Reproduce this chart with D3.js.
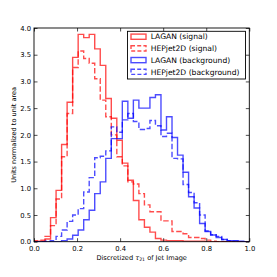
<!DOCTYPE html>
<html><head><meta charset="utf-8">
<script src="https://cdn.jsdelivr.net/npm/d3@7"></script>
<style>body{margin:0;background:#fff}svg{display:block}text{font-family:"DejaVu Sans",sans-serif}</style>
</head><body>
<svg id="c" width="277" height="277"></svg>
<script>
// ---- data ----
const binStart = 0, binEnd = 1, binCount = 39;
const laganSignal = [0, 0.01, 0.05, 0.45, 0.96, 1.82, 2.61, 3.45, 3.88, 3.82, 3.88, 3.61, 3.30, 2.68, 2.31, 1.90, 1.47, 1.15, 0.77, 0.41, 0.27, 0.18, 0.06, 0.03, 0.02, 0.02, 0.02, 0.01, 0.01, 0.01, 0.01, 0, 0, 0, 0, 0, 0, 0, 0];
const hepSignal = [0.02, 0.03, 0.1, 0.3, 0.8, 1.59, 2.40, 3.26, 3.57, 3.43, 3.34, 3.05, 2.65, 2.34, 2.0, 1.59, 1.42, 1.12, 1.08, 0.9, 0.69, 0.56, 0.56, 0.39, 0.39, 0.19, 0.19, 0.15, 0.08, 0.08, 0.06, 0.03, 0.01, 0, 0, 0, 0, 0, 0];
const laganBkg = [0, 0, 0, 0, 0, 0.02, 0.05, 0.12, 0.22, 0.41, 0.59, 0.9, 1.12, 1.56, 1.93, 1.93, 2.63, 2.31, 2.65, 2.5, 2.5, 2.7, 2.75, 2.09, 2.34, 1.95, 1.62, 1.3, 0.84, 0.63, 0.34, 0.19, 0.125, 0.08, 0.04, 0.02, 0.02, 0.01, 0];
const hepBkg = [0, 0, 0.01, 0.02, 0.1, 0.22, 0.38, 0.5, 0.62, 0.93, 1.2, 1.57, 1.6, 1.7, 2.15, 2.05, 2.28, 2.4, 2.25, 2.1, 2.12, 2.27, 2.17, 1.97, 2.03, 1.56, 1.55, 1.07, 0.92, 0.73, 0.5, 0.2, 0.13, 0.1, 0.04, 0.02, 0.01, 0, 0];
const seriesNames = ["LAGAN (signal)", "HEPjet2D (signal)", "LAGAN (background)", "HEPjet2D (background)"];
const xTicks = [0, 0.2, 0.4, 0.6, 0.8, 1.0];
const yTicks = [0, 0.5, 1.0, 1.5, 2.0, 2.5, 3.0, 3.5, 4.0];

// ---- layout ----
const m = {l: 34, r: 249.3, t: 28, b: 241.7};
const svg = d3.select("#c");
const x = d3.scaleLinear().domain([0, 1]).range([m.l, m.r]);
const y = d3.scaleLinear().domain([0, 4]).range([m.b, m.t]);

const edges = d3.range(binCount + 1).map(i => binStart + (binEnd - binStart) * i / binCount);

const series = [
  {name: seriesNames[0], vals: laganSignal, color: "#ff0000", dash: null},
  {name: seriesNames[1], vals: hepSignal, color: "#ff0000", dash: "5.5,2.4"},
  {name: seriesNames[2], vals: laganBkg, color: "#0000ff", dash: null},
  {name: seriesNames[3], vals: hepBkg, color: "#0000ff", dash: "5.5,2.4"}
];

svg.append("clipPath").attr("id", "clip").append("rect")
  .attr("x", m.l).attr("y", m.t - 2).attr("width", m.r - m.l).attr("height", m.b - m.t + 2);

const line = d3.line().x(d => x(d[0])).y(d => y(d[1]));
const g = svg.append("g").attr("clip-path", "url(#clip)");
series.forEach(s => {
  const pts = [[edges[0], 0]];
  s.vals.forEach((v, i) => { pts.push([edges[i], v]); pts.push([edges[i + 1], v]); });
  pts.push([edges[binCount], 0]);
  g.append("path").attr("d", line(pts)).attr("fill", "none")
    .attr("stroke", s.color).attr("stroke-opacity", 0.7).attr("stroke-width", 1.4)
    .attr("stroke-dasharray", s.dash);
});

// frame
svg.append("rect").attr("x", m.l).attr("y", m.t).attr("width", m.r - m.l).attr("height", m.b - m.t)
  .attr("fill", "none").attr("stroke", "#000").attr("stroke-width", 0.9);

// axes (ticks inward)
const tl = 3.5;
const axB = d3.axisBottom(x).tickValues(xTicks).tickSizeInner(-tl).tickSizeOuter(0).tickPadding(4).tickFormat(d3.format(".1f"));
const axT = d3.axisTop(x).tickValues(xTicks).tickSizeInner(-tl).tickSizeOuter(0).tickFormat("");
const axL = d3.axisLeft(y).tickValues(yTicks).tickSizeInner(-tl).tickSizeOuter(0).tickPadding(3).tickFormat(d3.format(".1f"));
const axR = d3.axisRight(y).tickValues(yTicks).tickSizeInner(-tl).tickSizeOuter(0).tickFormat("");
[[axB, `translate(0,${m.b})`], [axT, `translate(0,${m.t})`], [axL, `translate(${m.l},0)`], [axR, `translate(${m.r},0)`]].forEach(([a, t]) => {
  const ga = svg.append("g").attr("transform", t).call(a);
  ga.select(".domain").remove();
  ga.selectAll("line").attr("stroke", "#000").attr("stroke-width", 0.7);
  ga.selectAll("text").attr("font-family", "DejaVu Sans").attr("font-size", 6.8).attr("fill", "#000");
});

// axis labels
const xl = svg.append("text").attr("x", (m.l + m.r) / 2).attr("y", 259.5).attr("text-anchor", "middle")
  .attr("font-size", 6.6).attr("fill", "#000");
xl.append("tspan").text("Discretized ");
xl.append("tspan").attr("font-style", "italic").text("τ");
xl.append("tspan").attr("font-size", 4.6).attr("dy", 1.5).text("21");
xl.append("tspan").attr("dy", -1.5).text(" of Jet Image");

svg.append("text").attr("transform", `translate(15.5,${(m.t + m.b) / 2}) rotate(-90)`)
  .attr("text-anchor", "middle").attr("font-size", 6.6).attr("fill", "#000")
  .text("Units normalized to unit area");

// legend
const lg = svg.append("g");
lg.append("rect").attr("x", 127.5).attr("y", 31.3).attr("width", 118).attr("height", 47.7)
  .attr("fill", "#fff").attr("stroke", "#000").attr("stroke-width", 0.9);
series.forEach((s, i) => {
  const cy = 36.7 + i * 11.7;
  lg.append("rect").attr("x", 131).attr("y", cy - 2.6).attr("width", 15).attr("height", 5.2)
    .attr("fill", "none").attr("stroke", s.color).attr("stroke-opacity", 0.7).attr("stroke-width", 1.4)
    .attr("stroke-dasharray", s.dash ? "4,2.2" : null);
  lg.append("text").attr("x", 150.7).attr("y", cy + 2.7).attr("font-size", 7.6).attr("fill", "#000").text(s.name);
});
</script>
</body></html>
